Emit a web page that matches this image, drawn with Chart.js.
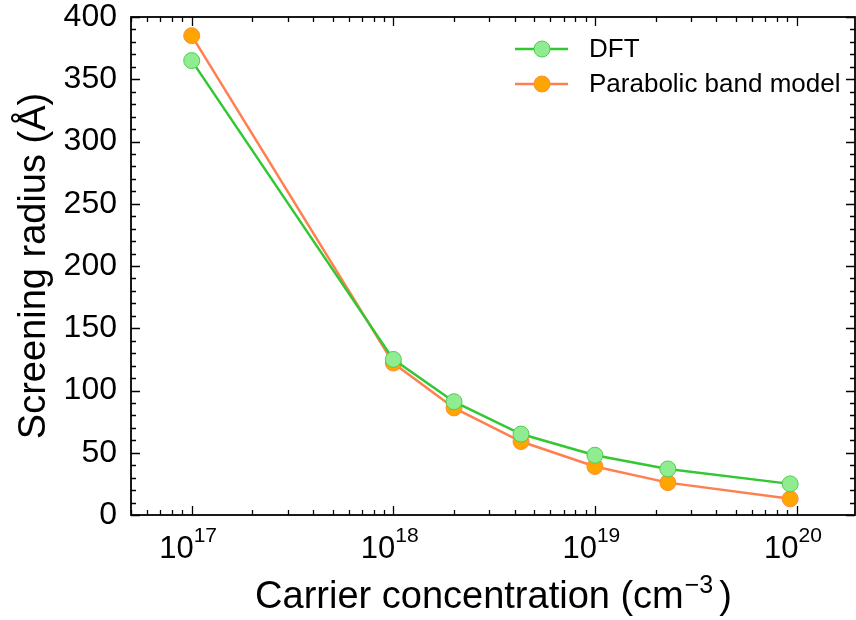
<!DOCTYPE html>
<html>
<head>
<meta charset="utf-8">
<script src="https://cdn.jsdelivr.net/npm/chart.js@4.4.1/dist/chart.umd.min.js"></script>
<style>
  html, body { margin: 0; padding: 0; background: #fff; }
  #wrap { width: 856px; height: 620px; }
</style>
</head>
<body>
<div id="wrap"><canvas id="chart" width="856" height="620"></canvas></div>
<script>
// Carrier concentration (cm^-3) and screening radius (Å)
const carrier = [1e17, 1e18, 2e18, 4.3e18, 1e19, 2.3e19, 9.3e19];
const dftRadius = [365, 125, 91, 65, 48, 37, 25];
const parabolicRadius = [385, 122, 86, 59, 39, 26, 13];

const xMajorTicks = [1e17, 1e18, 1e19, 1e20];
const xTickExponents = ['17', '18', '19', '20'];
const seriesLabels = ['DFT', 'Parabolic band model'];

const FONT = '"Liberation Sans", Arial, Helvetica, sans-serif';

const toPoints = (xs, ys) => xs.map((x, i) => ({ x: x, y: ys[i] }));

// no extra label padding, the plot box is fixed by the layout padding
const noPad = scale => {
  scale.paddingTop = 0;
  scale.paddingBottom = 0;
  scale.paddingLeft = 0;
  scale.paddingRight = 0;
};

// frame, inward ticks, x labels with superscripts, x title and legend
const decorPlugin = {
  id: 'decor',
  afterDraw(chart) {
    const ctx = chart.ctx;
    const area = chart.chartArea;
    const xs = chart.scales.x;
    const ys = chart.scales.y;

    ctx.save();
    ctx.strokeStyle = '#000';

    // ticks on all four sides
    ctx.lineWidth = 1.3;
    const xTick = (v, len) => {
      const px = Math.round(xs.getPixelForValue(v)) + 0.5;
      ctx.beginPath();
      ctx.moveTo(px, area.bottom); ctx.lineTo(px, area.bottom - len);
      ctx.moveTo(px, area.top); ctx.lineTo(px, area.top + len);
      ctx.stroke();
    };
    for (let d = 16; d <= 20; d++) {
      for (let m = 1; m <= 9; m++) {
        const v = m * Math.pow(10, d);
        if (v < xs.min || v > xs.max) continue;
        xTick(v, m === 1 ? 9 : 5);
      }
    }
    for (let v = 0; v <= 400; v += 10) {
      const py = Math.round(ys.getPixelForValue(v)) + 0.5;
      const len = v % 50 === 0 ? 9 : 5;
      ctx.beginPath();
      ctx.moveTo(area.left, py); ctx.lineTo(area.left + len, py);
      ctx.moveTo(area.right, py); ctx.lineTo(area.right - len, py);
      ctx.stroke();
    }

    // frame
    ctx.lineWidth = 1.8;
    ctx.strokeRect(area.left, area.top, area.right - area.left, area.bottom - area.top);

    // x tick labels 10^n
    ctx.fillStyle = '#000';
    ctx.textBaseline = 'alphabetic';
    xMajorTicks.forEach((v, i) => {
      const px = xs.getPixelForValue(v) + 2;
      ctx.font = '31px ' + FONT;
      ctx.textAlign = 'right';
      ctx.fillText('10', px, 558);
      ctx.font = '21px ' + FONT;
      ctx.textAlign = 'left';
      ctx.fillText(xTickExponents[i], px, 542);
    });

    // x axis title with superscript
    const main = 'Carrier concentration (cm';
    const sup = '\u22123';
    const tail = ')';
    ctx.font = '38px ' + FONT;
    const wMain = ctx.measureText(main).width;
    const wTail = ctx.measureText(tail).width;
    ctx.font = '25px ' + FONT;
    const wSup = ctx.measureText(sup).width + 6;
    let tx = (area.left + area.right) / 2 - (wMain + wSup + wTail) / 2;
    ctx.textAlign = 'left';
    ctx.font = '38px ' + FONT;
    ctx.fillText(main, tx, 608);
    tx += wMain + 1;
    ctx.font = '25px ' + FONT;
    ctx.fillText(sup, tx, 593);
    tx += wSup;
    ctx.font = '38px ' + FONT;
    ctx.fillText(tail, tx, 608);

    // legend
    const rows = [49, 84];
    chart.data.datasets.forEach((ds, i) => {
      const y = rows[i];
      ctx.strokeStyle = ds.borderColor;
      ctx.lineWidth = ds.borderWidth;
      ctx.beginPath();
      ctx.moveTo(515, y); ctx.lineTo(568, y);
      ctx.stroke();
      ctx.beginPath();
      ctx.arc(542, y, ds.pointRadius, 0, Math.PI * 2);
      ctx.fillStyle = ds.pointBackgroundColor;
      ctx.fill();
      ctx.lineWidth = ds.pointBorderWidth;
      ctx.strokeStyle = ds.pointBorderColor;
      ctx.stroke();
      ctx.fillStyle = '#000';
      ctx.font = '26px ' + FONT;
      ctx.textBaseline = 'middle';
      ctx.fillText(seriesLabels[i], 589, y + 1);
    });
    ctx.restore();
  }
};

new Chart(document.getElementById('chart'), {
  type: 'scatter',
  data: {
    datasets: [
      {
        label: seriesLabels[0],
        data: toPoints(carrier, dftRadius),
        showLine: true,
        borderColor: 'rgb(50, 200, 50)',
        borderWidth: 2.5,
        pointRadius: 8,
        pointBackgroundColor: 'rgb(144, 236, 144)',
        pointBorderColor: 'rgb(80, 205, 80)',
        pointBorderWidth: 1
      },
      {
        label: seriesLabels[1],
        data: toPoints(carrier, parabolicRadius),
        showLine: true,
        borderColor: 'rgb(255, 127, 80)',
        borderWidth: 2.5,
        pointRadius: 8,
        pointBackgroundColor: 'rgb(255, 165, 0)',
        pointBorderColor: 'rgb(255, 140, 60)',
        pointBorderWidth: 1
      }
    ]
  },
  options: {
    responsive: false,
    animation: false,
    layout: { autoPadding: false, padding: { top: 17, right: 1, left: 0, bottom: 0 } },
    plugins: {
      legend: { display: false },
      tooltip: { enabled: false }
    },
    scales: {
      x: {
        type: 'logarithmic',
        min: 5e16,
        max: 1.95e20,
        grid: { display: false },
        border: { display: false },
        ticks: { display: false },
        afterFit: scale => { scale.height = 105; noPad(scale); }
      },
      y: {
        min: 0,
        max: 400,
        grid: { display: false, drawTicks: false },
        border: { display: false },
        ticks: {
          stepSize: 50,
          padding: 14,
          color: '#000',
          font: { family: FONT, size: 32 }
        },
        title: {
          display: true,
          text: 'Screening radius (Å)',
          color: '#000',
          font: { family: FONT, size: 38 },
          padding: { top: 12, bottom: 0 }
        },
        afterFit: scale => { scale.width = 131; noPad(scale); }
      }
    }
  },
  plugins: [decorPlugin]
});
</script>
</body>
</html>
